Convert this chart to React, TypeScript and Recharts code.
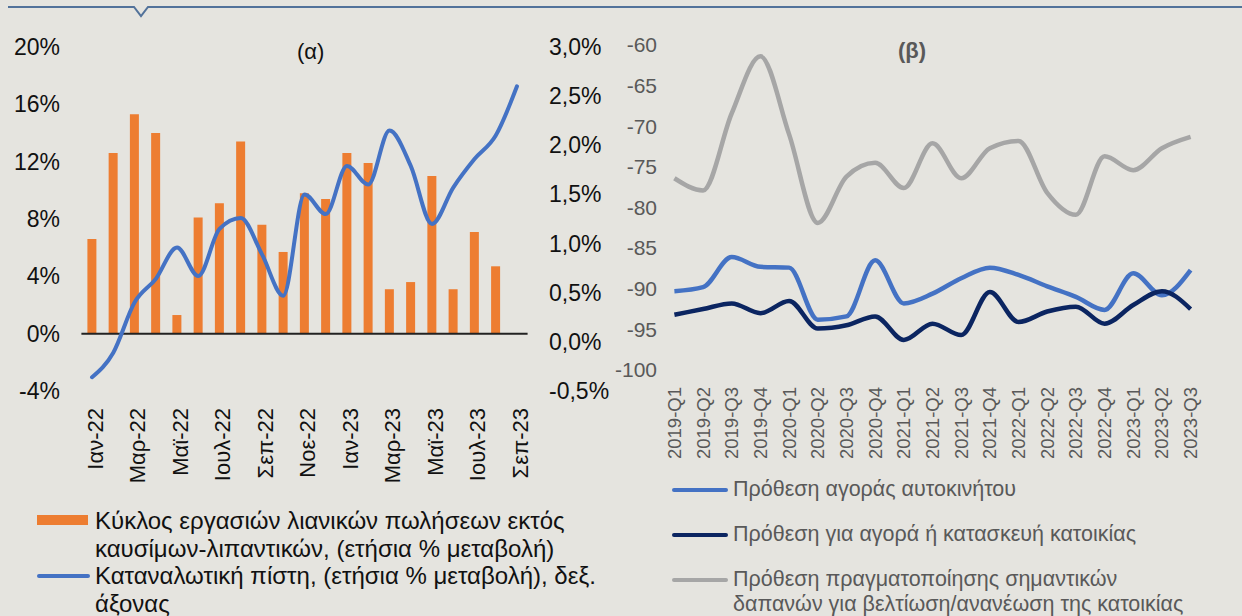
import React from "react";
import { ComposedChart, LineChart, Bar, Line, XAxis, YAxis, ReferenceLine } from "recharts";

// (α) monthly data
const months = [
  "Ιαν-22", "Φεβ-22", "Μαρ-22", "Απρ-22", "Μαϊ-22", "Ιουν-22", "Ιουλ-22",
  "Αυγ-22", "Σεπ-22", "Οκτ-22", "Νοε-22", "Δεκ-22", "Ιαν-23", "Φεβ-23",
  "Μαρ-23", "Απρ-23", "Μαϊ-23", "Ιουν-23", "Ιουλ-23", "Αυγ-23", "Σεπ-23",
];
const retailSales = [
  6.6, 12.6, 15.3, 14.0, 1.3, 8.1, 9.1, 13.4, 7.6, 5.7, 9.8, 9.4, 12.6, 11.9,
  3.1, 3.6, 11.0, 3.1, 7.1, 4.7, null,
];
const consumerCredit = [
  -0.36, -0.11, 0.4, 0.64, 0.96, 0.67, 1.15, 1.26, 0.89, 0.47, 1.5, 1.3, 1.79,
  1.6, 2.15, 1.79, 1.2, 1.57, 1.86, 2.1, 2.6,
];
const leftTicks = [-4, 0, 4, 8, 12, 16, 20];
const rightTicks = [-0.5, 0, 0.5, 1, 1.5, 2, 2.5, 3];

// (β) quarterly data
const quarters = [
  "2019-Q1", "2019-Q2", "2019-Q3", "2019-Q4", "2020-Q1", "2020-Q2", "2020-Q3",
  "2020-Q4", "2021-Q1", "2021-Q2", "2021-Q3", "2021-Q4", "2022-Q1", "2022-Q2",
  "2022-Q3", "2022-Q4", "2023-Q1", "2023-Q2", "2023-Q3",
];
const carPurchase = [
  -90.3, -89.8, -86.1, -87.3, -87.4, -93.8, -93.4, -86.5, -91.8, -90.6, -88.7,
  -87.4, -88.3, -89.7, -91.0, -92.6, -88.1, -90.8, -87.7,
];
const housePurchase = [
  -93.2, -92.5, -91.8, -93.0, -91.5, -94.9, -94.5, -93.4, -96.3, -94.3, -95.7,
  -90.4, -94.1, -92.8, -92.2, -94.3, -92.0, -90.3, -92.5,
];
const homeImprovement = [
  -76.4, -77.9, -68.4, -61.4, -71.0, -81.9, -76.2, -74.5, -77.6, -72.1, -76.4,
  -72.7, -71.8, -78.2, -80.9, -73.7, -75.4, -72.7, -71.3,
];
const betaTicks = [-100, -95, -90, -85, -80, -75, -70, -65, -60];

const alphaData = months.map((m, i) => ({
  month: m,
  retail: retailSales[i],
  credit: consumerCredit[i],
}));

const betaData = quarters.map((q, i) => ({
  quarter: q,
  car: carPurchase[i],
  house: housePurchase[i],
  improve: homeImprovement[i],
}));

const FONT = "'Liberation Sans', Arial, sans-serif";
const BG = "#e5e4df";
const ORANGE = "#ed7d31";
const BLUE = "#4472c4";
const NAVY = "#0b2561";
const GREY = "#a6a6a6";

const LeftTick = ({ y, payload }: any) => (
  <text x={60} y={y} dy="0.35em" textAnchor="end" fontSize={23} fill="#111" fontFamily={FONT}>
    {payload.value}%
  </text>
);

const RightTick = ({ y, payload }: any) => (
  <text x={549} y={y} dy="0.35em" textAnchor="start" fontSize={23} fill="#111" fontFamily={FONT}>
    {payload.value.toFixed(1).replace(".", ",")}%
  </text>
);

const MonthTick = ({ x, payload }: any) => (
  <text
    transform={`translate(${x + 3},408) rotate(-90)`}
    dy="0.35em"
    textAnchor="end"
    fontSize={22}
    fill="#111"
    fontFamily={FONT}
  >
    {payload.value}
  </text>
);

const BetaYTick = ({ y, payload }: any) => (
  <text x={57} y={y} dy="0.35em" textAnchor="end" fontSize={21} fill="#595959" fontFamily={FONT}>
    {payload.value}
  </text>
);

const QuarterTick = ({ x, payload }: any) => (
  <text
    transform={`translate(${x},387) rotate(-90)`}
    dy="0.35em"
    textAnchor="end"
    fontSize={18.5}
    fill="#595959"
    fontFamily={FONT}
  >
    {payload.value}
  </text>
);

const LegendLine = ({ color }: { color: string }) => (
  <span
    style={{
      display: "inline-block",
      width: 56,
      height: 4,
      borderRadius: 2,
      background: color,
      marginRight: 5,
      verticalAlign: "middle",
    }}
  />
);

export default function App() {
  return (
    <div
      style={{
        position: "absolute",
        left: 0,
        top: 0,
        width: 1242,
        height: 616,
        background: BG,
        overflow: "hidden",
        fontFamily: FONT,
      }}
    >
      <svg width={1242} height={30} style={{ position: "absolute", left: 0, top: 0 }}>
        <path d="M8 7 H134 L141 16 L148 7 H1242" fill="none" stroke="#52729a" strokeWidth={2} />
      </svg>

      <div style={{ position: "absolute", left: 0, top: 0 }}>
        <ComposedChart
          width={620}
          height={500}
          data={alphaData}
          margin={{ top: 47, right: 32.4, left: 21.4, bottom: 19 }}
        >
          <XAxis
            dataKey="month"
            interval={1}
            height={90}
            axisLine={false}
            tickLine={false}
            tick={<MonthTick />}
          />
          <YAxis
            yAxisId="left"
            domain={[-4, 20]}
            ticks={leftTicks}
            width={60}
            axisLine={false}
            tickLine={false}
            tick={<LeftTick />}
          />
          <YAxis
            yAxisId="right"
            orientation="right"
            domain={[-0.5, 3]}
            ticks={rightTicks}
            width={60}
            axisLine={false}
            tickLine={false}
            tick={<RightTick />}
          />
          <Bar yAxisId="left" dataKey="retail" fill={ORANGE} barSize={9} isAnimationActive={false} />
          <ReferenceLine yAxisId="left" y={0} stroke="#222" strokeWidth={2} />
          <Line
            yAxisId="right"
            type="monotone"
            dataKey="credit"
            stroke={BLUE}
            strokeWidth={4}
            strokeLinecap="round"
            dot={false}
            isAnimationActive={false}
          />
        </ComposedChart>
      </div>

      <div
        style={{
          position: "absolute",
          left: 297,
          top: 39,
          fontSize: 22,
          color: "#111",
        }}
      >
        (α)
      </div>

      <div style={{ position: "absolute", left: 600, top: 0 }}>
        <LineChart
          width={642}
          height={500}
          data={betaData}
          margin={{ top: 45, right: 51.4, left: 14.4, bottom: 30 }}
        >
          <XAxis
            dataKey="quarter"
            interval={0}
            height={100}
            axisLine={false}
            tickLine={false}
            tick={<QuarterTick />}
          />
          <YAxis
            domain={[-100, -60]}
            ticks={betaTicks}
            width={60}
            axisLine={false}
            tickLine={false}
            tick={<BetaYTick />}
          />
          <Line type="monotone" dataKey="improve" stroke={GREY} strokeWidth={4.5} dot={false} isAnimationActive={false} />
          <Line type="monotone" dataKey="car" stroke={BLUE} strokeWidth={4.5} dot={false} isAnimationActive={false} />
          <Line type="monotone" dataKey="house" stroke={NAVY} strokeWidth={4.5} dot={false} isAnimationActive={false} />
        </LineChart>
      </div>

      <div
        style={{
          position: "absolute",
          left: 898,
          top: 38,
          fontSize: 22,
          fontWeight: "bold",
          color: "#595959",
        }}
      >
        (β)
      </div>

      {/* legend (α) */}
      <div style={{ position: "absolute", left: 37, top: 507, fontSize: 24, lineHeight: "27.5px", color: "#111" }}>
        <div style={{ display: "flex" }}>
          <span style={{ width: 51, height: 10, background: ORANGE, marginTop: 8, marginRight: 7, flex: "none" }} />
          <span>
            Κύκλος εργασιών λιανικών πωλήσεων εκτός
            <br />
            καυσίμων-λιπαντικών, (ετήσια % μεταβολή)
          </span>
        </div>
        <div style={{ display: "flex" }}>
          <span style={{ width: 53, height: 4, background: BLUE, borderRadius: 2, marginTop: 12, marginRight: 5, flex: "none" }} />
          <span>
            Καταναλωτική πίστη, (ετήσια % μεταβολή), δεξ.
            <br />
            άξονας
          </span>
        </div>
      </div>

      {/* legend (β) */}
      <div style={{ position: "absolute", left: 672, top: 477, fontSize: 21.5, lineHeight: "25px", color: "#595959" }}>
        <div style={{ height: 45 }}>
          <LegendLine color={BLUE} />
          Πρόθεση αγοράς αυτοκινήτου
        </div>
        <div style={{ height: 45 }}>
          <LegendLine color={NAVY} />
          Πρόθεση για αγορά ή κατασκευή κατοικίας
        </div>
        <div style={{ display: "flex" }}>
          <span style={{ width: 56, height: 4, background: GREY, borderRadius: 2, marginTop: 11, marginRight: 5, flex: "none" }} />
          <span>
            Πρόθεση πραγματοποίησης σημαντικών
            <br />
            δαπανών για βελτίωση/ανανέωση της κατοικίας
          </span>
        </div>
      </div>
    </div>
  );
}
